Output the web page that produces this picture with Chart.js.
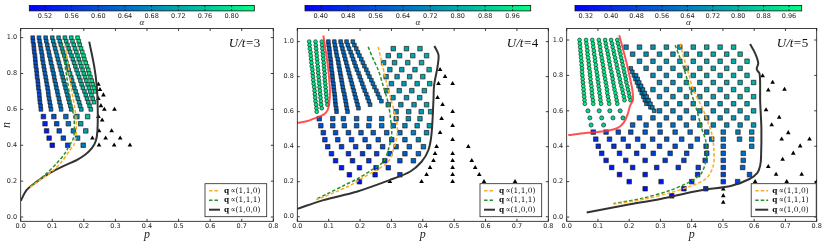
<!DOCTYPE html>
<html>
<head>
<meta charset="utf-8">
<title>alpha / p-n diagrams</title>
<script src="https://cdn.jsdelivr.net/npm/chart.js@4.4.1/dist/chart.umd.min.js"></script>
<style>
  html, body { margin: 0; padding: 0; background: #fff; }
  #fig { position: relative; width: 830px; height: 244px; overflow: hidden; }
  #fig canvas { position: absolute; top: 0; }
</style>
</head>
<body>
<div id="fig">
  <canvas id="main1" width="280" height="244" style="left:0px"></canvas>
  <canvas id="main2" width="279" height="244" style="left:277px"></canvas>
  <canvas id="main3" width="280" height="244" style="left:550px"></canvas>
  <canvas id="cb1" width="252" height="28" style="left:20px"></canvas>
  <canvas id="cb2" width="252" height="28" style="left:296px"></canvas>
  <canvas id="cb3" width="252" height="28" style="left:566px"></canvas>
</div>
<script>
// axes ticks
const pTicks = [0, 0.1, 0.2, 0.3, 0.4, 0.5, 0.6, 0.7, 0.8];
const nTicks = [0, 0.2, 0.4, 0.6, 0.8, 1.0];
// rows of the dense columns, top to bottom
const nDense = [1.00,0.98,0.96,0.94,0.92,0.90,0.88,0.86,0.84,0.82,0.80,0.78,0.76,0.74,0.72,0.70,0.68,0.66,0.64,0.62,0.60];

// ---------- U/t = 3 ----------
const p1Cb = [0.4965, 0.834];
const p1CbTicks = [0.52, 0.56, 0.60, 0.64, 0.68, 0.72, 0.76, 0.80];
const p1SqCols = [
  [0.038,0.039,0.041,0.042,0.043,0.045,0.046,0.047,0.048,0.050,0.051,0.052,0.054,0.055,0.056,0.058,0.059,0.060,0.061,0.063,0.064],
  [0.058,0.060,0.062,0.064,0.066,0.068,0.069,0.071,0.073,0.075,0.077,0.079,0.081,0.083,0.085,0.087,0.088,0.090,0.092,0.094,0.096],
  [0.079,0.081,0.084,0.086,0.089,0.091,0.094,0.096,0.099,0.101,0.104,0.106,0.108,0.111,0.113,0.116,0.118,0.121,0.123,0.126,0.128],
  [0.100,0.103,0.106,0.109,0.112,0.115,0.118,0.121,0.124,0.127,0.130,0.133,0.136,0.139,0.142,0.145,0.148,0.151,0.154,0.157,0.160],
  [0.120,0.124,0.127,0.131,0.134,0.138,0.142,0.145,0.149,0.152,0.156,0.160,0.163,0.167,0.170,0.174,0.178,0.181,0.185,0.188,0.192],
  [0.140,0.144,0.148,0.152,0.156,0.161,0.165,0.169,0.173,0.177,0.181,0.185,0.189,0.193,0.197,0.202,0.206,0.210,0.214,0.218,0.222],
  [0.160,0.164,0.168,0.172,0.176,0.180,0.184,0.188,0.192,0.196,0.200,0.204,0.208,0.212,0.216,0.220,0.224,0.228,0.232],
  [0.180,0.184,0.187,0.191,0.195,0.199,0.202,0.206,0.210,0.214,0.217,0.221,0.225,0.228,0.232,0.236]
];
const p1SqColA = [0.60, 0.63, 0.65, 0.68, 0.71, 0.74, 0.77, 0.80];
const p1RowN = [0.56, 0.52, 0.48, 0.44, 0.40];
const p1RowP = [
  [0.072,0.105,0.143,0.178,0.212],
  [0.077,0.114,0.151,0.190],
  [0.082,0.122,0.167,0.206],
  [0.090,0.135,0.180],
  [0.100,0.149,0.198]
];
const p1RowA = [
  [0.56,0.60,0.64,0.69,0.75],
  [0.55,0.60,0.65,0.71],
  [0.54,0.59,0.65,0.71],
  [0.53,0.59,0.66],
  [0.52,0.58,0.66]
];
const p1TriP = [0.246,0.251,0.262,0.246,0.254,0.265,0.297,0.246,0.258,0.248,0.288,0.227,0.269,0.315,0.248,0.296,0.346];
const p1TriN = [0.74,0.71,0.68,0.66,0.62,0.60,0.60,0.56,0.54,0.48,0.48,0.44,0.44,0.44,0.40,0.40,0.40];
const p1Q100P = [0.217,0.233,0.241,0.244,0.243,0.238,0.226,0.205,0.175,0.135,0.093,0.051,0.019,0.000];
const p1Q100N = [0.978,0.838,0.727,0.600,0.480,0.425,0.385,0.348,0.315,0.284,0.246,0.197,0.151,0.090];
const p1Q110P = [0.140,0.151,0.161,0.172,0.176,0.175,0.168,0.156,0.130,0.098,0.054,0.030];
const p1Q110N = [0.960,0.840,0.710,0.600,0.520,0.450,0.400,0.374,0.308,0.253,0.197,0.165];
const p1Q111P = [0.130,0.146,0.158,0.168,0.170,0.165,0.154,0.140,0.114,0.082,0.051,0.030];
const p1Q111N = [0.960,0.780,0.650,0.560,0.480,0.430,0.400,0.355,0.299,0.244,0.197,0.168];

// ---------- U/t = 4 ----------
const p2Cb = [0.354, 1.013];
const p2CbTicks = [0.40, 0.48, 0.56, 0.64, 0.72, 0.80, 0.88, 0.96];
const p2CircCols = [
  [0.038,0.039,0.040,0.042,0.043,0.044,0.045,0.046,0.048,0.049,0.050,0.051,0.052,0.054,0.055,0.056,0.057,0.058,0.060,0.061,0.062],
  [0.058,0.059,0.060,0.061,0.062,0.063,0.064,0.065,0.066,0.067,0.068,0.069,0.070,0.071,0.072,0.073,0.074,0.075,0.076,0.078],
  [0.078,0.079,0.080,0.081,0.082,0.083,0.084,0.085,0.086,0.087,0.087,0.088,0.089,0.090,0.091,0.092,0.093,0.094,0.096]
];
const p2CircA = [0.97, 0.96, 0.95];
const p2SqCols = [
  [0.099,0.100,0.102,0.103,0.104,0.106,0.107,0.108,0.109,0.111,0.112,0.113,0.115,0.116,0.117,0.119,0.120,0.121,0.122,0.124,0.125],
  [0.118,0.120,0.122,0.124,0.126,0.129,0.131,0.133,0.135,0.137,0.139,0.141,0.143,0.145,0.147,0.150,0.152,0.154,0.156,0.158,0.160],
  [0.138,0.141,0.144,0.147,0.150,0.153,0.156,0.159,0.162,0.165,0.168,0.171,0.174,0.177,0.180,0.183,0.186,0.189,0.192,0.195],
  [0.157,0.161,0.165,0.170,0.174,0.178,0.182,0.186,0.190,0.195,0.199,0.203,0.207,0.211,0.215,0.220,0.224,0.228,0.232],
  [0.177,0.182,0.188,0.193,0.198,0.204,0.209,0.214,0.220,0.225,0.230,0.236,0.241,0.246,0.252,0.257,0.262,0.268]
];
const p2SqColA = [0.60, 0.62, 0.63, 0.64, 0.66];
const p2RowN = [0.96,0.92,0.88,0.84,0.80,0.76,0.72,0.68,0.64,0.60,0.56,0.52,0.48,0.44,0.40,0.36,0.32,0.28,0.24,0.20];
const p2RowP = [
  [0.306,0.348,0.391],
  [0.290,0.326,0.368,0.412],
  [0.275,0.310,0.352,0.396],
  [0.295,0.333,0.375,0.420],
  [0.283,0.318,0.358,0.400],
  [0.300,0.340,0.382,0.422],
  [0.285,0.325,0.365,0.405],
  [0.305,0.348,0.390],
  [0.290,0.330,0.372,0.412],
  [0.315,0.355,0.395,0.425],
  [0.070,0.113,0.147,0.189,0.230,0.269,0.315,0.354,0.391],
  [0.075,0.113,0.150,0.189,0.228,0.269,0.306,0.343,0.382,0.421],
  [0.083,0.122,0.163,0.203,0.242,0.285,0.327,0.370,0.412],
  [0.088,0.129,0.173,0.216,0.258,0.301,0.343,0.386],
  [0.097,0.141,0.186,0.228,0.272,0.315,0.357,0.402],
  [0.109,0.163,0.208,0.253,0.295,0.343,0.386],
  [0.122,0.176,0.228,0.279,0.327,0.370],
  [0.141,0.198,0.251,0.290],
  [0.166,0.248,0.327],
  [0.198]
];
const p2RowA = [
  [0.76,0.78,0.80],
  [0.75,0.77,0.79,0.81],
  [0.74,0.76,0.78,0.80],
  [0.74,0.76,0.78,0.81],
  [0.73,0.75,0.77,0.80],
  [0.73,0.75,0.77,0.80],
  [0.72,0.74,0.76,0.79],
  [0.72,0.74,0.77],
  [0.71,0.73,0.75,0.78],
  [0.70,0.72,0.75,0.79],
  [0.58,0.60,0.61,0.62,0.64,0.66,0.69,0.72,0.76],
  [0.56,0.58,0.59,0.61,0.62,0.64,0.66,0.69,0.73,0.77],
  [0.54,0.56,0.57,0.59,0.61,0.63,0.65,0.68,0.72],
  [0.52,0.54,0.55,0.57,0.59,0.61,0.64,0.68],
  [0.50,0.52,0.53,0.55,0.57,0.60,0.63,0.67],
  [0.47,0.49,0.51,0.53,0.56,0.59,0.63],
  [0.44,0.46,0.49,0.52,0.56,0.60],
  [0.42,0.43,0.46,0.50],
  [0.39,0.42,0.52],
  [0.38]
];
const p2TriP = [0.455,0.471,0.495,0.450,0.447,0.463,0.495,0.460,0.495,0.455,0.495,0.444,0.545,0.439,0.495,0.434,0.495,0.556,0.423,0.495,0.567,0.412,0.495,0.580,0.396,0.495,0.595,0.694,0.295];
const p2TriN = [0.84,0.80,0.76,0.76,0.68,0.64,0.60,0.56,0.52,0.48,0.44,0.40,0.40,0.36,0.36,0.32,0.32,0.32,0.28,0.28,0.28,0.24,0.24,0.24,0.20,0.20,0.20,0.20,0.20];
const p2Q100P = [0.437,0.450,0.447,0.436,0.434,0.428,0.418,0.396,0.359,0.295,0.189,0.083,0.000];
const p2Q100N = [0.975,0.924,0.857,0.750,0.667,0.476,0.381,0.314,0.257,0.210,0.143,0.095,0.045];
const p2Q110P = [0.258,0.272,0.285,0.300,0.315,0.319,0.306,0.290,0.253,0.205,0.168,0.120,0.080,0.060];
const p2Q110N = [0.970,0.860,0.760,0.660,0.560,0.476,0.381,0.314,0.267,0.219,0.178,0.140,0.110,0.098];
const p2Q111P = [0.226,0.242,0.258,0.275,0.290,0.297,0.301,0.290,0.274,0.237,0.194,0.150,0.100,0.060];
const p2Q111N = [0.971,0.900,0.838,0.740,0.648,0.562,0.476,0.381,0.314,0.267,0.219,0.180,0.135,0.100];
const p2RedP = [0.083,0.092,0.099,0.104,0.102,0.097,0.085,0.060,0.030,0.000];
const p2RedN = [1.035,0.930,0.838,0.720,0.650,0.610,0.585,0.565,0.545,0.535];

// ---------- U/t = 5 ----------
const p3Cb = [0.286, 1.0];
const p3CbTicks = [0.32, 0.40, 0.48, 0.56, 0.64, 0.72, 0.80, 0.88, 0.96];
const p3CircCols = [
  [0.041,0.042,0.043,0.044,0.045,0.046,0.047,0.048,0.049,0.049,0.050,0.051,0.052,0.053,0.054,0.055,0.056,0.057,0.058],
  [0.062,0.063,0.065,0.066,0.067,0.068,0.070,0.071,0.072,0.074,0.075,0.076,0.077,0.079,0.080,0.081,0.082,0.084,0.085],
  [0.082,0.084,0.085,0.087,0.088,0.090,0.091,0.093,0.094,0.096,0.098,0.099,0.101,0.102,0.104,0.105,0.107,0.108,0.110],
  [0.103,0.105,0.107,0.108,0.110,0.112,0.114,0.116,0.118,0.119,0.121,0.123,0.125,0.127,0.129,0.130,0.132,0.134,0.136],
  [0.123,0.125,0.127,0.130,0.132,0.134,0.136,0.138,0.140,0.143,0.145,0.147,0.149,0.151,0.153,0.156,0.158,0.160,0.162],
  [0.142,0.145,0.147,0.150,0.152,0.155,0.157,0.160,0.162,0.165,0.167,0.170,0.172,0.175,0.178,0.180,0.183,0.185],
  [0.162,0.164,0.167,0.169,0.172,0.174,0.177,0.179,0.182,0.184,0.187,0.189,0.191,0.194,0.196,0.199,0.201,0.204]
];
const p3CircA = [0.97, 0.97, 0.96, 0.96, 0.95, 0.95, 0.94];
const p3CircRowN = [0.60, 0.56, 0.52];
const p3CircRowP = [[0.068,0.104,0.138,0.171],[0.074,0.112,0.148,0.180],[0.078,0.118]];
const p3CircRowA = [[0.88,0.88,0.87,0.86],[0.87,0.87,0.86,0.85],[0.86,0.86]];
const p3SqColN = [
  [0.84,0.82,0.80,0.78,0.76,0.74,0.72,0.70,0.68,0.66,0.64],
  [0.80,0.78,0.76,0.74,0.72,0.70,0.68,0.66,0.64,0.62],
  [0.74,0.72,0.70,0.68,0.66,0.64,0.62,0.60]
];
const p3SqColP = [
  [0.205,0.210,0.215,0.220,0.225,0.230,0.235,0.240,0.245,0.250,0.255],
  [0.222,0.227,0.232,0.237,0.242,0.247,0.253,0.258,0.263,0.268],
  [0.238,0.244,0.250,0.256,0.262,0.268,0.274,0.280]
];
const p3SqColA = [0.64, 0.65, 0.66];
const p3RowN = [0.96,0.92,0.88,0.84,0.80,0.76,0.72,0.68,0.64,0.60,0.56,0.52,0.48,0.44,0.40,0.36,0.32,0.28,0.24,0.20,0.16,0.12];
const p3RowP = [
  [0.190,0.233,0.276,0.319,0.362,0.405,0.448,0.491,0.534],
  [0.211,0.254,0.297,0.340,0.383,0.426,0.469,0.512,0.555],
  [0.233,0.276,0.319,0.362,0.405,0.448,0.491,0.534,0.577],
  [0.254,0.297,0.340,0.383,0.426,0.469,0.512,0.555],
  [0.276,0.319,0.362,0.405,0.448,0.491,0.534,0.577],
  [0.297,0.340,0.383,0.426,0.469,0.512,0.555,0.598],
  [0.276,0.319,0.362,0.405,0.448,0.491,0.534,0.577],
  [0.297,0.340,0.383,0.426,0.469,0.512,0.555,0.598],
  [0.319,0.362,0.405,0.448,0.491,0.534,0.577],
  [0.297,0.340,0.383,0.426,0.469,0.512,0.555,0.598],
  [0.233,0.276,0.319,0.362,0.405,0.448,0.491,0.534,0.577],
  [0.211,0.254,0.297,0.340,0.383,0.426,0.469,0.512,0.555,0.598],
  [0.085,0.126,0.165,0.205,0.251,0.299,0.347,0.395,0.448,0.501,0.548,0.592],
  [0.093,0.137,0.181,0.227,0.275,0.320,0.368,0.418,0.464,0.501,0.553,0.592],
  [0.101,0.151,0.197,0.245,0.297,0.347,0.397,0.446,0.501,0.592],
  [0.112,0.169,0.224,0.277,0.331,0.384,0.448,0.501,0.565],
  [0.126,0.189,0.251,0.315,0.375,0.443,0.501,0.565],
  [0.144,0.211,0.288,0.357,0.421,0.501,0.563],
  [0.169,0.251,0.419,0.501,0.585],
  [0.200,0.302,0.400,0.501,0.547],
  [0.251,0.375,0.445],
  [0.336]
];
const p3RowA = [
  [0.68,0.69,0.71,0.72,0.74,0.75,0.77,0.78,0.80],
  [0.68,0.69,0.71,0.72,0.74,0.75,0.77,0.78,0.80],
  [0.68,0.69,0.71,0.72,0.74,0.75,0.77,0.78,0.80],
  [0.68,0.69,0.71,0.72,0.74,0.75,0.77,0.78],
  [0.68,0.69,0.71,0.72,0.74,0.75,0.77,0.78],
  [0.68,0.69,0.71,0.72,0.74,0.75,0.77,0.79],
  [0.67,0.68,0.70,0.71,0.73,0.74,0.76,0.78],
  [0.67,0.68,0.70,0.71,0.73,0.74,0.76,0.78],
  [0.66,0.68,0.69,0.71,0.72,0.74,0.76],
  [0.63,0.65,0.66,0.68,0.69,0.71,0.73,0.75],
  [0.58,0.60,0.62,0.63,0.65,0.66,0.68,0.70,0.72],
  [0.56,0.58,0.60,0.61,0.63,0.64,0.66,0.67,0.69,0.71],
  [0.45,0.47,0.49,0.51,0.53,0.55,0.57,0.59,0.61,0.63,0.65,0.67],
  [0.43,0.45,0.47,0.49,0.51,0.53,0.55,0.57,0.59,0.61,0.63,0.65],
  [0.41,0.43,0.45,0.47,0.49,0.51,0.53,0.55,0.58,0.63],
  [0.39,0.41,0.43,0.45,0.48,0.50,0.53,0.55,0.60],
  [0.37,0.39,0.41,0.44,0.47,0.50,0.53,0.58],
  [0.35,0.37,0.40,0.43,0.46,0.50,0.55],
  [0.33,0.36,0.43,0.47,0.53],
  [0.32,0.35,0.39,0.44,0.48],
  [0.31,0.35,0.38],
  [0.30]
];
const p3TriP = [0.627,0.659,0.645,0.697,0.638,0.680,0.656,0.709,0.688,0.777,0.747,0.725,0.691,0.645,0.670,0.752,0.603,0.704,0.800,0.501,0.501,0.501];
const p3TriN = [0.797,0.760,0.717,0.721,0.605,0.563,0.520,0.476,0.440,0.440,0.401,0.360,0.326,0.284,0.241,0.241,0.200,0.200,0.200,0.158,0.120,0.083];
const p3Q100P = [0.587,0.603,0.613,0.608,0.617,0.619,0.619,0.623,0.622,0.619,0.610,0.585,0.525,0.450,0.405,0.300,0.190,0.064];
const p3Q100N = [0.977,0.925,0.870,0.835,0.810,0.750,0.660,0.500,0.340,0.290,0.250,0.215,0.175,0.157,0.143,0.102,0.068,0.026];
const p3Q110P = [0.363,0.373,0.390,0.405,0.437,0.455,0.464,0.471,0.469,0.448,0.405,0.331,0.245,0.150];
const p3Q110N = [0.980,0.910,0.810,0.720,0.605,0.520,0.473,0.380,0.290,0.220,0.180,0.137,0.100,0.072];
const p3Q111P = [0.347,0.360,0.373,0.395,0.416,0.432,0.445,0.448,0.432,0.405,0.384,0.330,0.245,0.150];
const p3Q111N = [0.972,0.910,0.850,0.720,0.605,0.500,0.430,0.340,0.250,0.210,0.190,0.150,0.107,0.076];
const p3RedP = [0.168,0.180,0.192,0.203,0.210,0.212,0.203,0.195,0.183,0.165,0.139,0.100,0.060,0.005];
const p3RedN = [1.027,0.950,0.868,0.780,0.720,0.660,0.630,0.580,0.535,0.505,0.490,0.480,0.475,0.463];

// ---------- drawing ----------
const SERIF = '"DejaVu Serif", serif';
const MATH = '"Liberation Serif", serif';
const ORANGE = '#ffab24', GREEN = '#27922a', DARK = '#333333', RED = 'rgba(255,50,50,0.85)';

Chart.defaults.font.family = '"DejaVu Sans", sans-serif';
Chart.defaults.font.size = 6.5;
Chart.defaults.color = '#222';
Chart.defaults.animation = false;
Chart.defaults.events = [];
Chart.defaults.plugins.legend.display = false;
Chart.defaults.plugins.tooltip.enabled = false;

// matplotlib "winter": blue -> spring green
function winter(a, lo, hi) {
  const t = Math.max(0, Math.min(1, (a - lo) / (hi - lo)));
  return 'rgb(0,' + Math.round(255 * t) + ',' + Math.round(255 * (1 - t / 2)) + ')';
}

function pairs(ps, ns) { return ps.map((p, i) => ({ x: p, y: ns[i] })); }

function colPts(cols, colN, alphas) {
  const pts = [];
  cols.forEach((c, i) => c.forEach((p, j) => pts.push({ x: p, y: colN[i][j], a: alphas[i] })));
  return pts;
}

function rowPts(rowN, rowP, rowA) {
  const pts = [];
  rowP.forEach((r, i) => r.forEach((p, j) => pts.push({ x: p, y: rowN[i], a: rowA[i][j] })));
  return pts;
}

function lineDs(ps, ns, color, width, dash, order, legendText) {
  return {
    data: pairs(ps, ns), showLine: true, borderColor: color, borderWidth: width,
    borderDash: dash, pointRadius: 0, tension: 0.3, order: order, legendText: legendText
  };
}

function markDs(pts, style, radius, cb, order) {
  return {
    data: pts, pointStyle: style, pointRadius: radius,
    pointBackgroundColor: ctx => ctx.raw ? winter(ctx.raw.a, cb[0], cb[1]) : '#000',
    pointBorderColor: '#151515', pointBorderWidth: 0.6, order: order
  };
}

// soft grey rim the squares have in the original
function haloDs(pts, radius) {
  return {
    data: pts, pointStyle: 'rect', pointRadius: radius + 0.9,
    pointBackgroundColor: 'rgba(150,150,150,0.45)', pointBorderWidth: 0, order: 9
  };
}

// frame with inward ticks on all four sides
const frameTicks = {
  id: 'frameTicks',
  afterDatasetsDraw(chart) {
    const { ctx, chartArea: a, scales: { x, y } } = chart;
    ctx.save();
    ctx.strokeStyle = '#111';
    ctx.lineWidth = 0.8;
    ctx.beginPath();
    x.ticks.forEach(t => {
      const px = x.getPixelForValue(t.value);
      ctx.moveTo(px, a.bottom); ctx.lineTo(px, a.bottom - 2.5);
      ctx.moveTo(px, a.top); ctx.lineTo(px, a.top + 2.5);
    });
    y.ticks.forEach(t => {
      const py = y.getPixelForValue(t.value);
      ctx.moveTo(a.left, py); ctx.lineTo(a.left + 2.5, py);
      ctx.moveTo(a.right, py); ctx.lineTo(a.right - 2.5, py);
    });
    ctx.stroke();
    ctx.strokeRect(a.left, a.top, a.width, a.height);
    ctx.restore();
  }
};

// boxed legend in the lower right corner
const qLegend = {
  id: 'qLegend',
  afterDraw(chart, args, o) {
    const { ctx, chartArea: a } = chart;
    const items = chart.data.datasets.filter(d => d.legendText);
    const x0 = a.right - o.right - o.width, y0 = a.bottom - o.bottom - o.height;
    ctx.save();
    ctx.fillStyle = '#fff';
    ctx.fillRect(x0, y0, o.width, o.height);
    ctx.strokeStyle = '#222';
    ctx.lineWidth = 0.8;
    ctx.strokeRect(x0, y0, o.width, o.height);
    items.forEach((d, i) => {
      const y = y0 + 7 + i * 9.5;
      ctx.strokeStyle = d.borderColor;
      ctx.lineWidth = d.borderWidth;
      ctx.setLineDash(d.borderDash);
      ctx.beginPath();
      ctx.moveTo(x0 + 4, y); ctx.lineTo(x0 + 4 + o.sample, y);
      ctx.stroke();
      ctx.setLineDash([]);
      ctx.fillStyle = '#111';
      ctx.textBaseline = 'middle';
      const tx = x0 + 8 + o.sample;
      ctx.font = 'bold 7.5px ' + SERIF;
      ctx.fillText('q', tx, y);
      ctx.font = '7.5px ' + SERIF;
      ctx.fillText('\u221D' + d.legendText, tx + 6.5, y);
    });
    ctx.restore();
  }
};

// U/t label, top right inside the axes
const utLabel = {
  id: 'utLabel',
  afterDraw(chart, args, o) {
    const { ctx, chartArea: a } = chart;
    ctx.save();
    ctx.fillStyle = '#111';
    ctx.textBaseline = 'alphabetic';
    const y = a.top + 18;
    ctx.font = '13px ' + MATH;
    const wv = ctx.measureText(o.value).width;
    const we = ctx.measureText('=').width;
    let x = a.right - o.dx - wv;
    ctx.fillText(o.value, x, y);
    x -= we + 0.5;
    ctx.fillText('=', x, y);
    ctx.font = 'italic 13px ' + MATH;
    const wu = ctx.measureText('U/t').width;
    x -= wu + 0.5;
    ctx.fillText('U/t', x, y);
    ctx.restore();
  }
};

// colour gradient of the colour bar
const cbarFill = {
  id: 'cbarFill',
  beforeDatasetsDraw(chart) {
    const { ctx, chartArea: a, scales: { x } } = chart;
    ctx.save();
    const g = ctx.createLinearGradient(a.left, 0, a.right, 0);
    g.addColorStop(0, 'rgb(0,0,255)');
    g.addColorStop(1, 'rgb(0,255,128)');
    ctx.fillStyle = g;
    ctx.fillRect(a.left, a.top, a.width, a.height);
    ctx.strokeStyle = '#111';
    ctx.lineWidth = 0.8;
    ctx.beginPath();
    x.ticks.forEach(t => {
      const px = x.getPixelForValue(t.value);
      ctx.moveTo(px, a.top); ctx.lineTo(px, a.top + 1.8);
      ctx.moveTo(px, a.bottom); ctx.lineTo(px, a.bottom - 1.8);
    });
    ctx.stroke();
    ctx.strokeRect(a.left, a.top, a.width, a.height);
    ctx.restore();
  }
};

function colorbar(id, cb, ticks, padLeft, padRight) {
  new Chart(document.getElementById(id), {
    type: 'scatter',
    data: { datasets: [] },
    options: {
      responsive: false, devicePixelRatio: 1,
      layout: { padding: { left: padLeft, right: padRight, top: 5.4, bottom: 0 } },
      scales: {
        x: {
          type: 'linear', min: cb[0], max: cb[1],
          afterBuildTicks: s => { s.ticks = ticks.map(v => ({ value: v })); },
          afterFit: s => { s.height = 28 - 10.9; },
          grid: { display: false, drawTicks: false }, border: { display: false },
          ticks: { padding: 1.2, autoSkip: false, maxRotation: 0, callback: v => v.toFixed(2) },
          title: { display: true, text: '\u03B1', font: { family: MATH, style: 'italic', size: 9 }, padding: { top: 0, bottom: 0 } }
        },
        y: { display: false, min: 0, max: 1 }
      }
    },
    plugins: [cbarFill]
  });
}

function panel(id, L, d) {
  const datasets = [
    lineDs(d.q110[0], d.q110[1], ORANGE, 1.5, [3.5, 2], 0, '(1,1,0)'),
    lineDs(d.q111[0], d.q111[1], GREEN, 1.5, [3.5, 2], 1, '(1,1,1)'),
    lineDs(d.q100[0], d.q100[1], DARK, 2, [], 2, '(1,0,0)')
  ];
  if (d.red) datasets.push(lineDs(d.red[0], d.red[1], RED, 2, [], 3, null));
  datasets.push({
    data: pairs(d.tri[0], d.tri[1]), pointStyle: 'triangle', pointRadius: 2.7,
    pointBackgroundColor: '#000', pointBorderWidth: 0, order: 4
  });
  d.dense.forEach(s => {
    datasets.push(markDs(s.pts, s.style, s.r, d.cb, 5));
    if (s.style === 'rect') datasets.push(haloDs(s.pts, s.r));
  });
  d.sparse.forEach(s => {
    datasets.push(markDs(s.pts, s.style, s.r, d.cb, 6));
    if (s.style === 'rect') datasets.push(haloDs(s.pts, s.r));
  });

  new Chart(document.getElementById(id), {
    type: 'scatter',
    data: { datasets },
    options: {
      responsive: false, devicePixelRatio: 1,
      layout: { padding: { left: 0, top: 28.5, right: L.padRight, bottom: 0 } },
      scales: {
        x: {
          type: 'linear', min: 0, max: 0.8,
          afterBuildTicks: s => { s.ticks = pTicks.map(v => ({ value: v })); },
          afterFit: s => { s.height = 244 - 221.3; },
          grid: { display: false, drawTicks: false }, border: { display: false },
          ticks: { padding: 1.5, autoSkip: false, maxRotation: 0, callback: v => v.toFixed(1) },
          title: { display: true, text: 'p', font: { family: MATH, style: 'italic', size: 12 }, padding: { top: 0, bottom: 2 } }
        },
        y: {
          type: 'linear', min: L.yMin, max: L.yMax,
          afterBuildTicks: s => { s.ticks = nTicks.map(v => ({ value: v })); },
          afterFit: s => { s.width = L.axisW; },
          grid: { display: false, drawTicks: false }, border: { display: false },
          ticks: { padding: 3.5, autoSkip: false, callback: v => v.toFixed(1) },
          title: { display: L.showN, text: 'n', font: { family: MATH, style: 'italic', size: 12 }, padding: { top: 0, bottom: 0 } }
        }
      },
      plugins: {
        qLegend: { width: L.legW, height: 33, right: L.legRight, bottom: 4.6, sample: L.legSample },
        utLabel: { value: L.ut, dx: L.utDx }
      }
    },
    plugins: [frameTicks, qLegend, utLabel]
  });
}

const shared = cols => cols.map(() => nDense);

panel('main1',
  { padRight: 6.7, axisW: 20.7, yMin: -0.024, yMax: 1.051, showN: true, legW: 61.7, legRight: 6.6, legSample: 11, ut: '3', utDx: 13 },
  {
    cb: p1Cb,
    q110: [p1Q110P, p1Q110N], q111: [p1Q111P, p1Q111N], q100: [p1Q100P, p1Q100N],
    tri: [p1TriP, p1TriN],
    dense: [{ pts: colPts(p1SqCols, shared(p1SqCols), p1SqColA), style: 'rect', r: 2.5 }],
    sparse: [{ pts: rowPts(p1RowN, p1RowP, p1RowA), style: 'rect', r: 3.1 }]
  });

panel('main2',
  { padRight: 7.7, axisW: 20.3, yMin: -0.026, yMax: 1.075, showN: false, legW: 61.7, legRight: 6.6, legSample: 11, ut: '4', utDx: 10 },
  {
    cb: p2Cb,
    q110: [p2Q110P, p2Q110N], q111: [p2Q111P, p2Q111N], q100: [p2Q100P, p2Q100N],
    red: [p2RedP, p2RedN],
    tri: [p2TriP, p2TriN],
    dense: [
      { pts: colPts(p2CircCols, shared(p2CircCols), p2CircA), style: 'circle', r: 1.9 },
      { pts: colPts(p2SqCols, shared(p2SqCols), p2SqColA), style: 'rect', r: 2.5 }
    ],
    sparse: [{ pts: rowPts(p2RowN, p2RowP, p2RowA), style: 'rect', r: 3.1 }]
  });

panel('main3',
  { padRight: 13.3, axisW: 16.7, yMin: -0.024, yMax: 1.065, showN: false, legW: 65, legRight: 0.5, legSample: 13, ut: '5', utDx: 8.5 },
  {
    cb: p3Cb,
    q110: [p3Q110P, p3Q110N], q111: [p3Q111P, p3Q111N], q100: [p3Q100P, p3Q100N],
    red: [p3RedP, p3RedN],
    tri: [p3TriP, p3TriN],
    dense: [
      { pts: colPts(p3CircCols, shared(p3CircCols), p3CircA), style: 'circle', r: 1.9 },
      { pts: colPts(p3SqColP, p3SqColN, p3SqColA), style: 'rect', r: 2.5 }
    ],
    sparse: [
      { pts: rowPts(p3CircRowN, p3CircRowP, p3CircRowA), style: 'circle', r: 2.1 },
      { pts: rowPts(p3RowN, p3RowP, p3RowA), style: 'rect', r: 3.1 }
    ]
  });

colorbar('cb1', p1Cb, p1CbTicks, 9.3, 17.7);
colorbar('cb2', p2Cb, p2CbTicks, 9, 17.3);
colorbar('cb3', p3Cb, p3CbTicks, 9, 16.3);
</script>
</body>
</html>
